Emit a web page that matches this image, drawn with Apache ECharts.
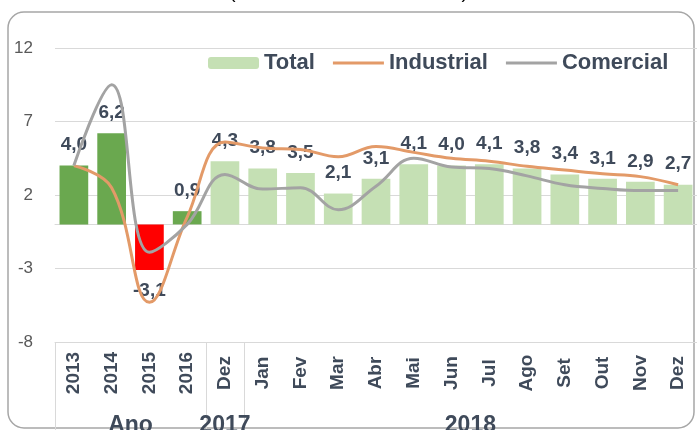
<!DOCTYPE html>
<html>
<head>
<meta charset="utf-8">
<script src="https://cdn.jsdelivr.net/npm/echarts@6/dist/echarts.min.js"></script>
<style>
  html, body { margin: 0; padding: 0; background: #fff; }
  #main { width: 697px; height: 430px; }
</style>
</head>
<body>
<div id="main"></div>
<script>
'use strict'
// categorias (Ano + meses)
var categorias = ['2013','2014','2015','2016','Dez','Jan','Fev','Mar','Abr','Mai','Jun','Jul','Ago','Set','Out','Nov','Dez'];
var grupos = ['Ano','2017','2018'];
var grupoInicio = [0, 4, 5];          // primeira categoria de cada grupo
var grupoCentro = [2, 4.5, 11];       // centro de cada grupo (em categorias)

var total = [4.0, 6.2, -3.1, 0.9, 4.3, 3.8, 3.5, 2.1, 3.1, 4.1, 4.0, 4.1, 3.8, 3.4, 3.1, 2.9, 2.7];
var industrial = [4.0, 2.5, -5.3, 0.5, 5.6, 5.2, 5.1, 4.6, 5.3, 4.9, 4.5, 4.3, 3.95, 3.7, 3.45, 3.25, 2.7];
var comercial = [4.0, 9.5, -1.9, 0.0, 3.4, 2.4, 2.5, 1.0, 2.6, 4.5, 3.9, 3.8, 3.3, 2.7, 2.45, 2.3, 2.3];

var font = 'Liberation Sans';
var textCor = '#3f4a5a';
var gridCor = '#d9d9d9';
var lineIcon = 'path://M0,0L51,0L51,3L0,3Z';

function corBarra(i, v){
    if (v < 0) return '#ff0000';
    if (i < 4) return '#6aa84f';
    return '#c5e0b4';
}

var myChart = echarts.init(document.getElementById('main'));

myChart.setOption({
    animation: false,
    textStyle: { fontFamily: font },
    graphic: [
        {
            type: 'rect',
            shape: { x: 8, y: 12, width: 686, height: 416, r: 16 },
            style: { fill: 'none', stroke: '#a6a6a6', lineWidth: 1.5 },
            z: -10
        },
        {
            type: 'text',
            left: 'center',
            top: -17,
            style: { text: '(Base: 12 meses anteriores)', font: '19px "Liberation Sans"', fill: '#000' }
        }
    ],
    legend: {
        left: 203,
        top: 47,
        itemWidth: 51,
        itemHeight: 12,
        itemGap: 18,
        textStyle: { fontSize: 22, fontWeight: 'bold', color: textCor, fontFamily: font },
        data: [
            { name: 'Total' },
            { name: 'Industrial', icon: lineIcon },
            { name: 'Comercial', icon: lineIcon }
        ]
    },
    grid: { left: 55, right: 0, top: 48, bottom: 88, outerBoundsMode: 'none', containLabel: false },
    xAxis: [
        {
            type: 'category',
            data: categorias,
            axisLine: { onZero: true, lineStyle: { color: gridCor } },
            axisTick: { length: 6, lineStyle: { color: gridCor } },
            axisLabel: { show: false }
        },
        {
            type: 'category',
            data: categorias,
            position: 'bottom',
            axisLine: { onZero: false, lineStyle: { color: gridCor } },
            axisTick: { interval: 0, length: 56, lineStyle: { color: gridCor } },
            axisLabel: {
                interval: 0, rotate: 90, align: 'center', verticalAlign: 'middle',
                margin: 31, fontSize: 19, fontWeight: 'bold', color: textCor, fontFamily: font
            }
        },
        {
            type: 'value',
            min: 0,
            max: categorias.length,
            position: 'bottom',
            axisLine: { show: false, onZero: false },
            splitLine: { show: false },
            axisTick: { customValues: grupoInicio, length: 88, lineStyle: { color: gridCor } },
            axisLabel: {
                customValues: grupoCentro,
                formatter: function(v){ return grupos[grupoCentro.indexOf(v)]; },
                margin: 72, fontSize: 23, fontWeight: 'bold', color: textCor, fontFamily: font
            }
        }
    ],
    yAxis: {
        type: 'value',
        min: -8,
        max: 12,
        interval: 5,
        axisLine: { show: false },
        axisTick: { show: false },
        splitLine: { lineStyle: { color: gridCor } },
        axisLabel: { margin: 22, fontSize: 17, color: '#595959', fontFamily: font }
    },
    series: [
        {
            name: 'Total',
            type: 'bar',
            barCategoryGap: '24%',
            itemStyle: { color: '#c5e0b4' },
            label: {
                show: true,
                position: 'top',
                distance: 11,
                fontSize: 19,
                fontWeight: 'bold',
                color: textCor,
                fontFamily: font,
                formatter: function(p){ return p.value.toFixed(1).replace('.', ','); }
            },
            data: total.map(function(v, i){
                var d = { value: v, itemStyle: { color: corBarra(i, v) } };
                if (v < 0) d.label = { position: 'bottom' };
                return d;
            }),
            z: 2
        },
        {
            name: 'Industrial',
            type: 'line',
            smooth: 0.4,
            symbol: 'none',
            lineStyle: { color: '#e39a68', width: 3 },
            itemStyle: { color: '#e39a68' },
            data: industrial,
            z: 3
        },
        {
            name: 'Comercial',
            type: 'line',
            smooth: 0.4,
            symbol: 'none',
            lineStyle: { color: '#a3a3a3', width: 3 },
            itemStyle: { color: '#a3a3a3' },
            data: comercial,
            z: 3
        }
    ]
});
</script>
</body>
</html>
